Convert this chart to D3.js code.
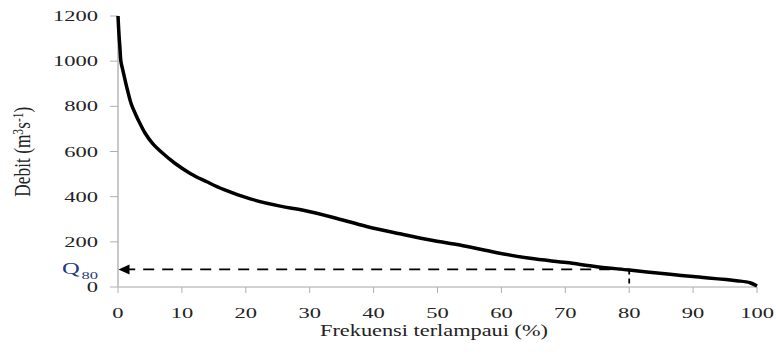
<!DOCTYPE html>
<html><head><meta charset="utf-8">
<script src="https://cdn.jsdelivr.net/npm/d3@7"></script>
<style>
html,body{margin:0;padding:0;background:#fff;}
text{font-family:"Liberation Serif","Times New Roman",serif;fill:#222;}
</style></head>
<body><svg id="c" width="776" height="359"></svg>
<script>
const freq = [0,0.15,0.3,0.45,0.8,1.5,2.1,2.8,3.3,4.2,5.4,7.0,8.9,11.3,13.9,16.5,20.7,25.4,29,33.7,38.9,44.1,49.3,53.5,59.3,64.5,70.2,74.9,80,86.4,90,96.8,98.9,100];
const debit = [1200,1120,1060,1000,955,870,808,762,732,683,636,592,548,503,466,432,390,358,340,308,268,236,206,186,152,127,108,90,75,56,46,28,19,4];
const xTicks = [0,10,20,30,40,50,60,70,80,90,100];
const yTicks = [0,200,400,600,800,1000,1200];
const q80Freq = 80;
const q80Value = 78;

const svg = d3.select("#c");
const x = d3.scaleLinear().domain([0,100]).range([118,757]);
const y = d3.scaleLinear().domain([0,1200]).range([287,16]);
const sx = 1.5;

// axes lines
svg.append("line").attr("x1",x(0)).attr("x2",x(100)).attr("y1",y(0)).attr("y2",y(0))
  .attr("stroke","#a6a6a6").attr("stroke-width",1);
svg.append("line").attr("x1",x(0)).attr("x2",x(0)).attr("y1",y(0)).attr("y2",y(1200))
  .attr("stroke","#c8c8c8").attr("stroke-width",2);

// y ticks
yTicks.forEach(t=>{
  svg.append("line").attr("x1",110).attr("x2",x(0)).attr("y1",y(t)).attr("y2",y(t))
    .attr("stroke","#b0b0b0").attr("stroke-width",1);
  svg.append("text").attr("transform",`translate(98,${y(t)+5}) scale(${sx},1)`)
    .attr("text-anchor","end").attr("font-size",15).text(t);
});
// x ticks
xTicks.forEach(t=>{
  svg.append("line").attr("x1",x(t)).attr("x2",x(t)).attr("y1",y(0)).attr("y2",y(0)+6)
    .attr("stroke","#b0b0b0").attr("stroke-width",1);
  svg.append("text").attr("transform",`translate(${x(t)},318) scale(${sx},1)`)
    .attr("text-anchor","middle").attr("font-size",15).text(t);
});

// axis titles
svg.append("text").attr("x",434).attr("y",336).attr("text-anchor","middle")
  .attr("font-size",16).attr("textLength",228).attr("lengthAdjust","spacingAndGlyphs")
  .text("Frekuensi terlampaui (%)");
const yl = svg.append("text").attr("transform",`translate(30,151.7) scale(${sx},1) rotate(-90)`)
  .attr("text-anchor","middle").attr("font-size",15)
  .attr("textLength",90).attr("lengthAdjust","spacingAndGlyphs");
yl.append("tspan").text("Debit (m");
yl.append("tspan").attr("font-size",10).attr("dy",-5).text("3");
yl.append("tspan").attr("dy",5).text("s");
yl.append("tspan").attr("font-size",10).attr("dy",-5).text("-1");
yl.append("tspan").attr("dy",5).text(")");

// dashed lines
svg.append("line").attr("x1",x(q80Freq)).attr("x2",x(0)+9).attr("y1",y(q80Value)).attr("y2",y(q80Value))
  .attr("stroke","#000").attr("stroke-width",1.8).attr("stroke-dasharray","11,8");
svg.append("line").attr("x1",x(q80Freq)).attr("x2",x(q80Freq)).attr("y1",y(q80Value)).attr("y2",y(0))
  .attr("stroke","#000").attr("stroke-width",1.8).attr("stroke-dasharray","5,4");
// arrowhead
const ax = x(0)+0.5, ay = y(q80Value);
svg.append("path").attr("d",`M${ax},${ay} L${ax+11},${ay-5} L${ax+11},${ay+5} Z`).attr("fill","#000");

// curve
const line = d3.line().x((d,i)=>x(freq[i])).y(d=>y(d)).curve(d3.curveCatmullRom.alpha(0.5));
svg.append("path").datum(debit).attr("d",line).attr("fill","none")
  .attr("stroke","#000").attr("stroke-width",3.5).attr("stroke-linejoin","round");

// Q80 label
svg.append("text").attr("transform",`translate(62,274) scale(1.45,1)`)
  .attr("font-size",17).style("fill","#1f3b80").text("Q");
svg.append("text").attr("transform",`translate(81.5,278.5) scale(1.5,1)`)
  .attr("font-size",11).style("fill","#1f3b80").text("80");
</script></body></html>
